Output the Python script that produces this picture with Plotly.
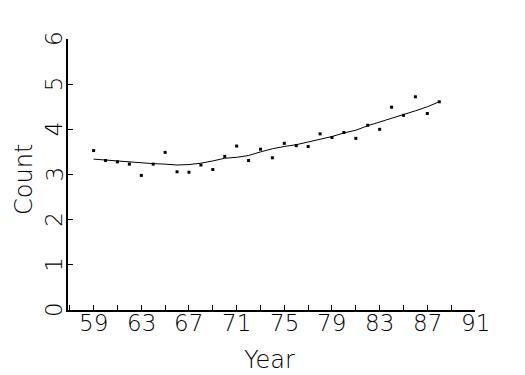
import plotly.graph_objects as go

years = list(range(59, 89))
counts = [3.53, 3.31, 3.28, 3.23, 2.98, 3.23, 3.49, 3.06, 3.05, 3.21,
          3.11, 3.40, 3.63, 3.31, 3.56, 3.37, 3.69, 3.64, 3.62, 3.90,
          3.82, 3.93, 3.80, 4.09, 4.00, 4.49, 4.31, 4.72, 4.35, 4.61]
fit = [3.34, 3.32, 3.30, 3.27, 3.25, 3.24, 3.23, 3.21, 3.22, 3.25,
       3.30, 3.36, 3.38, 3.42, 3.50, 3.57, 3.62, 3.66, 3.72, 3.78,
       3.84, 3.92, 3.98, 4.08, 4.16, 4.25, 4.32, 4.41, 4.50, 4.61]
x_ticks = [59, 63, 67, 71, 75, 79, 83, 87, 91]
y_ticks = [0, 1, 2, 3, 4, 5, 6]

FONT = "DejaVu Sans ExtraLight, DejaVu Sans, sans-serif"
TICKFONT = dict(family=FONT, size=23, color="black", weight=200)
TITLEFONT = dict(family=FONT, size=24, color="black", weight=200)

fig = go.Figure()
fig.add_trace(go.Scatter(x=years, y=fit, mode="lines",
                         line=dict(color="black", width=1), hoverinfo="skip"))
fig.add_trace(go.Scatter(x=years, y=counts, mode="markers",
                         marker=dict(symbol="square", size=3, color="black",
                                     line=dict(width=0))))

annotations = []
for v in x_ticks:
    annotations.append(dict(x=v, xref="x", y=0, yref="paper", text=str(v),
                            showarrow=False, xanchor="center", yanchor="middle",
                            yshift=-13, font=TICKFONT))
for v in y_ticks:
    annotations.append(dict(x=0, xref="paper", y=v, yref="y", text=str(v),
                            showarrow=False, xanchor="center", yanchor="middle",
                            xshift=-14, textangle=-90, font=TICKFONT))
annotations.append(dict(x=0.494, xref="paper", y=0, yref="paper", text="Year",
                        showarrow=False, xanchor="center", yanchor="middle",
                        yshift=-50, font=TITLEFONT))
annotations.append(dict(x=0, xref="paper", y=0.48, yref="paper", text="Count",
                        showarrow=False, xanchor="center", yanchor="middle",
                        xshift=-44, textangle=-90, font=TITLEFONT))

fig.update_layout(
    width=525, height=375,
    margin=dict(l=68, r=50, t=39, b=65),
    paper_bgcolor="white", plot_bgcolor="white",
    showlegend=False,
    annotations=annotations,
)
fig.update_xaxes(
    range=[56.85, 91], tickmode="array", tickvals=x_ticks,
    showticklabels=False, automargin=False,
    ticks="inside", ticklen=5, tickwidth=1, tickcolor="black",
    minor=dict(ticks="inside", ticklen=5, tickwidth=1, tickcolor="black",
               tickmode="linear", tick0=59, dtick=2),
    showline=True, linecolor="black", linewidth=2, showgrid=False,
    zeroline=False,
)
fig.update_yaxes(
    range=[0, 6], tickmode="array", tickvals=y_ticks,
    showticklabels=False, automargin=False,
    ticks="inside", ticklen=5, tickwidth=1, tickcolor="black",
    showline=True, linecolor="black", linewidth=2, showgrid=False,
    zeroline=False,
)
fig.write_html("out.html")
